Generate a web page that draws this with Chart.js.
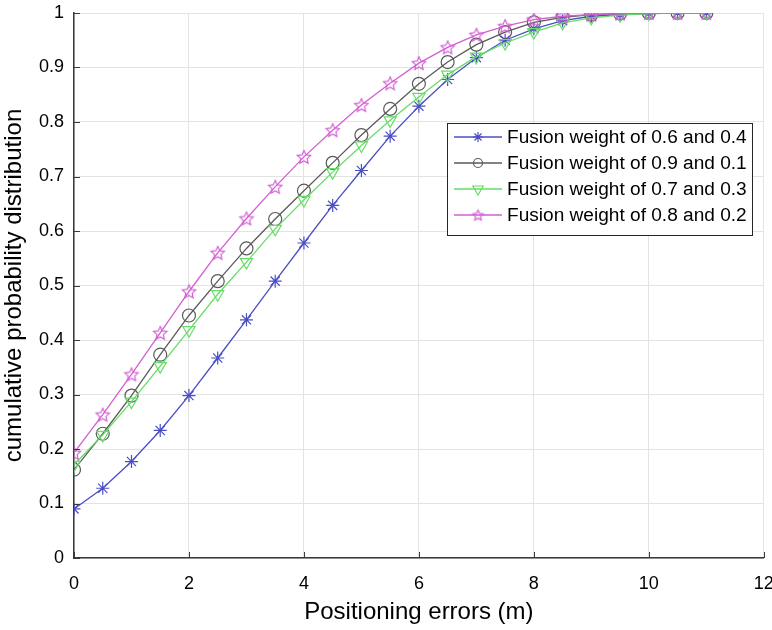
<!DOCTYPE html>
<html><head><meta charset="utf-8">
<script src="https://cdn.jsdelivr.net/npm/chart.js@4/dist/chart.umd.min.js"></script>
<style>html,body{margin:0;padding:0;background:#fff}#wrap{width:772px;height:630px}</style>
</head><body><div id="wrap"><canvas id="c" width="772" height="630"></canvas></div>
<script>
const xValues = [0,0.5,1,1.5,2,2.5,3,3.5,4,4.5,5,5.5,6,6.5,7,7.5,8,8.5,9,9.5,10,10.5,11];
const w64 = [0.09,0.128,0.177,0.234,0.298,0.367,0.437,0.508,0.578,0.647,0.711,0.774,0.829,0.878,0.918,0.95,0.971,0.986,0.994,0.997,0.999,1,1];
const w91 = [0.162,0.228,0.298,0.373,0.445,0.508,0.568,0.622,0.674,0.725,0.776,0.824,0.87,0.91,0.942,0.965,0.983,0.992,0.997,0.999,1,1,1];
const w73 = [0.171,0.226,0.287,0.352,0.418,0.484,0.543,0.604,0.657,0.708,0.757,0.803,0.846,0.887,0.92,0.945,0.965,0.982,0.991,0.996,0.999,1,1];
const w82 = [0.193,0.263,0.337,0.413,0.489,0.56,0.623,0.681,0.736,0.785,0.831,0.871,0.908,0.937,0.96,0.976,0.988,0.994,0.997,0.999,1,1,1];
const seriesNames = ['Fusion weight of 0.6 and 0.4','Fusion weight of 0.9 and 0.1','Fusion weight of 0.7 and 0.3','Fusion weight of 0.8 and 0.2'];
const xTitle = 'Positioning errors (m)';
const yTitle = 'cumulative probability distribution';

function pentagram(color, r) {
  const s = Math.ceil(r*2+4), c = document.createElement('canvas');
  c.width = s; c.height = s;
  const g = c.getContext('2d'); g.strokeStyle = color; g.lineWidth = 1.2;
  g.beginPath();
  for (let i = 0; i < 10; i++) {
    const rr = i % 2 === 0 ? r : r*0.48;
    const a = -Math.PI/2 + i*Math.PI/5;
    const px = s/2 + rr*Math.cos(a), py = s/2 + 0.6 + rr*Math.sin(a);
    i === 0 ? g.moveTo(px, py) : g.lineTo(px, py);
  }
  g.closePath(); g.stroke();
  return c;
}
const pts = a => a.map((v,i)=>({x:xValues[i], y:v}));
const none = 'rgba(0,0,0,0)';
const colors = ['#4a4fc4','#5a5a5a','#66dd66','#d35fd3'];
const pinkStar = pentagram(colors[3],7);
const pinkStarSmall = pentagram(colors[3],5.5);

const datasets = [
  {label:seriesNames[0], data:pts(w64), borderColor:colors[0], pointStyle:'star', pointRadius:6.5, pointBorderColor:colors[0], pointBackgroundColor:none, pointBorderWidth:1.2, order:4, legendStyle:'star', legendR:5},
  {label:seriesNames[1], data:pts(w91), borderColor:colors[1], pointStyle:'circle', pointRadius:6.5, pointBorderColor:colors[1], pointBackgroundColor:none, pointBorderWidth:1.2, order:3, legendStyle:'circle', legendR:4.5},
  {label:seriesNames[2], data:pts(w73), borderColor:colors[2], pointStyle:'triangle', rotation:180, pointRadius:7, pointBorderColor:colors[2], pointBackgroundColor:none, pointBorderWidth:1.2, order:2, legendStyle:'triangle', legendR:6},
  {label:seriesNames[3], data:pts(w82), borderColor:colors[3], pointStyle:pinkStar, pointRadius:7, pointBorderColor:colors[3], pointBackgroundColor:none, pointBorderWidth:1.2, order:1, legendStyle:pinkStarSmall, legendR:5}
].map(d=>Object.assign({borderWidth:1.3, fill:false, tension:0, showLine:true}, d));

const tickPlugin = {
  id:'ticksIn',
  afterDatasetsDraw(chart){
    const {ctx, chartArea:a, scales:{x,y}} = chart;
    ctx.save(); ctx.strokeStyle = '#3a3a3a'; ctx.lineWidth = 1;
    x.ticks.forEach(t=>{const p=Math.round(x.getPixelForValue(t.value))+0.5; ctx.beginPath(); ctx.moveTo(p,a.bottom); ctx.lineTo(p,a.bottom-6); ctx.stroke();});
    y.ticks.forEach(t=>{const p=Math.round(y.getPixelForValue(t.value))+0.5; ctx.beginPath(); ctx.moveTo(a.left,p); ctx.lineTo(a.left+6,p); ctx.stroke();});
    ctx.restore();
  }
};
const legendPlugin = {
  id:'boxLegend',
  afterDraw(chart){
    const ctx = chart.ctx;
    const L=447.5, T=123.5, W=305, H=112;
    ctx.save();
    ctx.fillStyle='#fff'; ctx.fillRect(L,T,W,H);
    ctx.strokeStyle='#262626'; ctx.lineWidth=1; ctx.strokeRect(L,T,W,H);
    ctx.textBaseline='middle';
    chart.data.datasets.forEach((d,i)=>{
      const yy = 137 + i*26;
      ctx.strokeStyle=d.borderColor; ctx.lineWidth=1.3;
      ctx.beginPath(); ctx.moveTo(454,yy); ctx.lineTo(502,yy); ctx.stroke();
      ctx.fillStyle=none; ctx.strokeStyle=d.borderColor; ctx.lineWidth=1.2;
      Chart.helpers.drawPoint(ctx,{pointStyle:d.legendStyle, rotation:d.rotation||0, radius:d.legendR, borderWidth:1.2}, 478, yy);
      ctx.fillStyle='#000';
      ctx.font='18px "Liberation Sans", Arial, sans-serif';
      ctx.save(); ctx.translate(507, yy+1); ctx.scale(1.06,1); ctx.fillText(d.label, 0, 0); ctx.restore();
    });
    ctx.restore();
  }
};

const tickFont = {family:'"Liberation Sans", Arial, sans-serif', size:18};
const titleFont = {family:'"Liberation Sans", Arial, sans-serif', size:24};
new Chart(document.getElementById('c'), {
  type:'scatter',
  data:{datasets},
  plugins:[tickPlugin, legendPlugin],
  options:{
    responsive:false, animation:false, maintainAspectRatio:false,
    layout:{padding:{top:13, right:6, left:0, bottom:3}},
    plugins:{legend:{display:false}, tooltip:{enabled:false}},
    scales:{
      x:{type:'linear', min:0, max:12,
        ticks:{stepSize:2, color:'#000', font:tickFont, padding:15, maxRotation:0},
        grid:{color:'#e3e3e3', tickLength:0},
        border:{color:'#3a3a3a', width:1.5},
        title:{display:true, text:xTitle, color:'#000', font:titleFont, padding:0},
        afterFit(s){s.height=69; s.paddingLeft=0; s.paddingRight=0;}
      },
      y:{type:'linear', min:0, max:1,
        ticks:{stepSize:0.1, color:'#000', font:tickFont, padding:10, callback:v=>String(Number(v.toFixed(1)))},
        grid:{color:'#e3e3e3', tickLength:0},
        border:{color:'#3a3a3a', width:1.5},
        title:{display:true, text:yTitle, color:'#000', font:titleFont, padding:0},
        afterFit(s){s.width=74; s.paddingTop=0; s.paddingBottom=0;}
      }
    }
  }
});
</script></body></html>
